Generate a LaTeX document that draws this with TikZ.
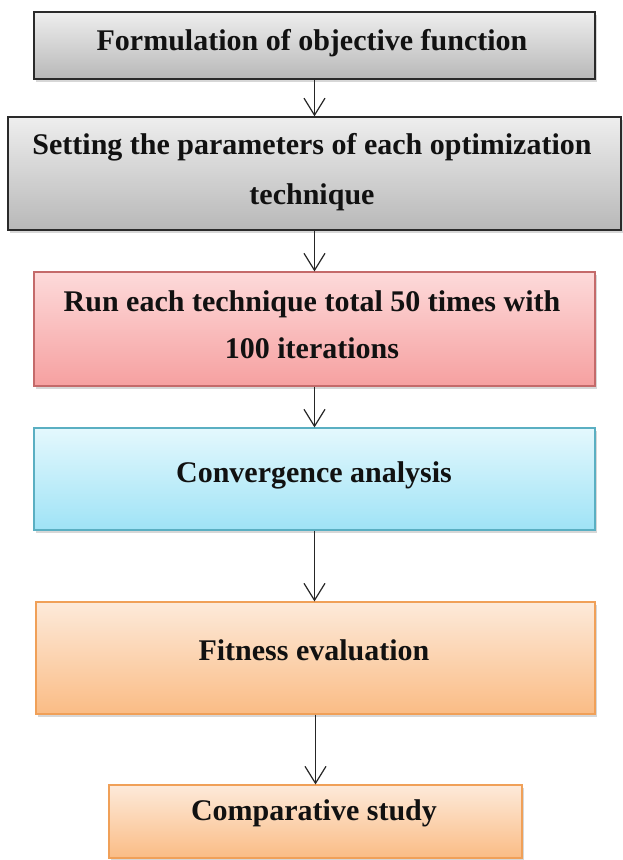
\documentclass[tikz,border=0pt]{standalone}
\usepackage{fontspec}
\setmainfont{Liberation Serif}
\usetikzlibrary{arrows.meta,shadows}

% box fills (top -> bottom) and frames
\definecolor{grayTop}{HTML}{EEEEEE}
\definecolor{grayBot}{HTML}{B8B8B8}
\definecolor{grayLine}{HTML}{2A2A2A}
\definecolor{pinkTop}{HTML}{FDDADA}
\definecolor{pinkBot}{HTML}{F6A0A0}
\definecolor{pinkLine}{HTML}{C46A6A}
\definecolor{cyanTop}{HTML}{E4F8FD}
\definecolor{cyanBot}{HTML}{9FE3F6}
\definecolor{cyanLine}{HTML}{5AAFC2}
\definecolor{oranTop}{HTML}{FDEADA}
\definecolor{oranBot}{HTML}{FABC85}
\definecolor{oranLine}{HTML}{F0A058}
\definecolor{inkText}{HTML}{111111}

\begin{document}
\begin{tikzpicture}[x=1pt,y=-1pt,
  stagebox/.style={rectangle, inner sep=0pt,
    drop shadow={shadow xshift=2pt, shadow yshift=-3pt, opacity=0.22, fill=black!70}},
  graybox/.style={stagebox, draw=grayLine, line width=1.4pt, top color=grayTop, bottom color=grayBot},
  pinkbox/.style={stagebox, draw=pinkLine, line width=1.1pt, top color=pinkTop, bottom color=pinkBot},
  cyanbox/.style={stagebox, draw=cyanLine, line width=1.1pt, top color=cyanTop, bottom color=cyanBot},
  oranbox/.style={stagebox, draw=oranLine, line width=1.1pt, top color=oranTop, bottom color=oranBot},
  caption/.style={inner sep=0pt, text=inkText, align=center,
    font=\fontsize{30}{50}\selectfont\bfseries},
  flow/.style={draw=black!85, line width=1.2pt, -{Straight Barb[length=17pt,width=21pt,line width=1.2pt]}}
]
\useasboundingbox (0,0) rectangle (622,860);
\fill[white] (0,0) rectangle (622,860);

% stage boxes
\node[graybox, minimum width=561pt, minimum height=67pt]  (b1) at (314.5,45.5) {};
\node[graybox, minimum width=613pt, minimum height=113pt] (b2) at (314.5,173.5) {};
\node[pinkbox, minimum width=561pt, minimum height=114pt] (b3) at (314.5,329) {};
\node[cyanbox, minimum width=561pt, minimum height=102pt] (b4) at (314.5,479) {};
\node[oranbox, minimum width=559pt, minimum height=112pt] (b5) at (315.5,658) {};
\node[oranbox, minimum width=413pt, minimum height=73pt]  (b6) at (315.5,821.5) {};

% captions (base anchor = baseline of the last line)
\node[caption, anchor=base] (t1) at (312,50) {Formulation of objective function};
\node[caption, anchor=base] (t2) at (312,204) {Setting the parameters of each optimization\\technique};
\node[caption, anchor=base, font=\fontsize{30}{47}\selectfont\bfseries] (t3) at (312,358) {Run each technique total 50 times with\\100 iterations};
\node[caption, anchor=base] (t4) at (314,482) {Convergence analysis};
\node[caption, anchor=base] (t5) at (314,660) {Fitness evaluation};
\node[caption, anchor=base] (t6) at (314,820) {Comparative study};

% connectors
\draw[flow] (b1.south) -- (b1.south |- b2.north);
\draw[flow] (b2.south) -- (b2.south |- b3.north);
\draw[flow] (b3.south) -- (b3.south |- b4.north);
\draw[flow] (b4.south) -- (b4.south |- b5.north);
\draw[flow] (b5.south) -- (b5.south |- b6.north);
\end{tikzpicture}
\end{document}
